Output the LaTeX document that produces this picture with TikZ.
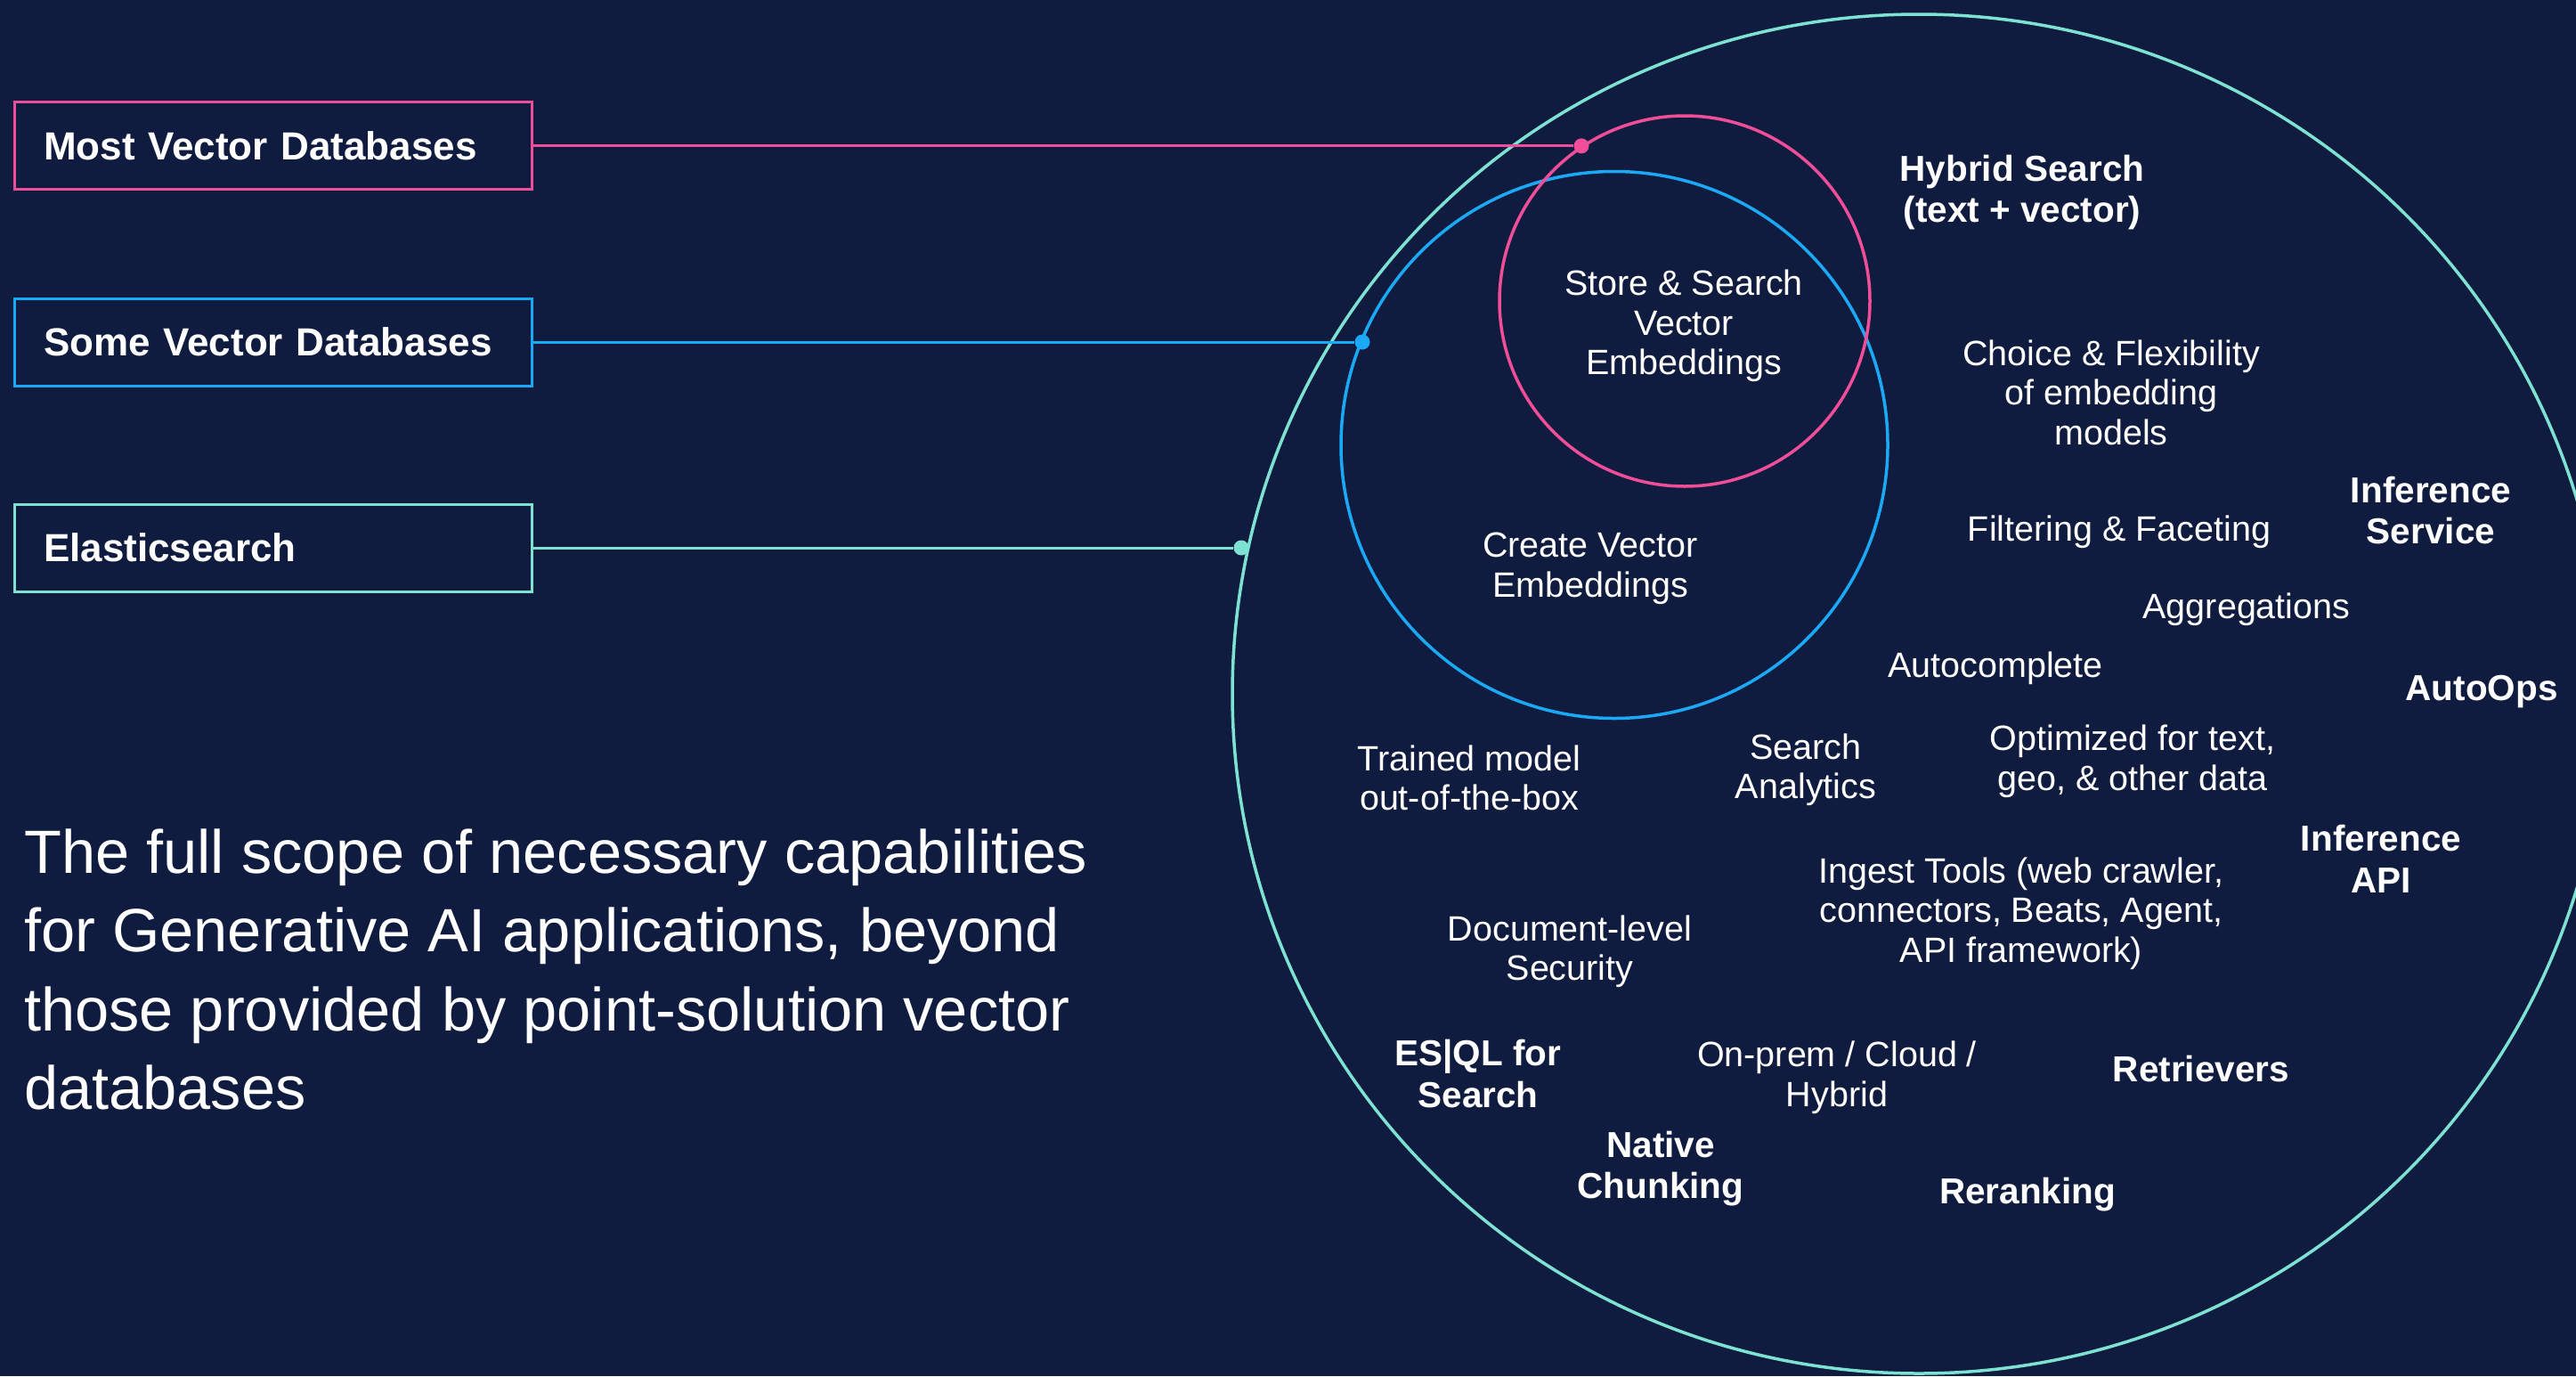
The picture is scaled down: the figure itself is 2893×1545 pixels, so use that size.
\documentclass[tikz,border=0pt]{standalone}
\usepackage{fontspec}
\setmainfont{Liberation Sans}
\definecolor{bg}{HTML}{101C3F}
\definecolor{pinkc}{HTML}{F04E98}
\definecolor{bluec}{HTML}{1BA9F5}
\definecolor{tealc}{HTML}{7DE2D1}
\newcommand{\vs}{\rule[-0.2em]{0pt}{0.92em}}
\begin{document}
\begin{tikzpicture}[x=1pt,y=-1pt,
  dbbox/.style={draw, line width=3pt, fill=bg, text=white, anchor=west,
    minimum width=581.5pt, minimum height=98pt, inner xsep=33pt, inner ysep=0pt,
    text width=515.5pt, align=left, font=\fontsize{44}{50}\selectfont\bfseries},
  conn/.style={line width=3pt},
  dot/.style={circle, inner sep=0pt, minimum size=17pt},
  ring/.style={line width=3.5pt},
  feat/.style={text=white, inner sep=0pt, align=center, yshift=-3pt, font=\fontsize{39.5}{44.5}\selectfont},
  featb/.style={text=white, inner sep=0pt, align=center, yshift=-3pt, font=\fontsize{40.5}{46.5}\selectfont\bfseries},
  para/.style={text=white, inner sep=0pt, align=left, anchor=west, yshift=-7pt, font=\fontsize{68.6}{88.5}\selectfont}]
\fill[bg] (0,0) rectangle (2893,1545);
\useasboundingbox (0,0) rectangle (2893,1545);
\clip (0,0) rectangle (2893,1545);

% rings
\draw[ring, tealc] (2155,779) ellipse [x radius=771pt, y radius=763pt];
\draw[ring, bluec] (1813,499.5) circle [radius=307pt];
\draw[ring, pinkc] (1892,338) circle [radius=208pt];

% boxes
\node[dbbox, draw=pinkc] (most) at (14.5,163.8) {Most Vector Databases};
\node[dbbox, draw=bluec] (some) at (14.5,384) {Some Vector Databases};
\node[dbbox, draw=tealc] (es) at (14.5,615) {Elasticsearch};

% dots
\node[dot, fill=pinkc] (pd) at (1776,163.8) {};
\node[dot, fill=bluec] (bd) at (1530,384) {};
\node[dot, fill=tealc] (td) at (1394,615) {};

% connectors
\draw[conn, pinkc] (most.east) -- (pd);
\draw[conn, bluec] (some.east) -- (bd);
\draw[conn, tealc] (es.east) -- (td);

% features
\node[featb] (hyb) at (2271,213) {\vs Hybrid Search\\\vs (text + vector)};
\node[feat] (store) at (1891,363) {\vs Store \& Search\\\vs Vector\\\vs Embeddings};
\node[feat] (choice) at (2371,441.5) {\vs Choice \& Flexibility\\\vs of embedding\\\vs models};
\node[feat] (create) at (1786,635) {\vs Create Vector\\\vs Embeddings};
\node[feat] (filt) at (2380,594) {\vs Filtering \& Faceting};
\node[featb] (infs) at (2730,574) {\vs Inference\\\vs Service};
\node[feat] (aggr) at (2523,681) {\vs Aggregations};
\node[feat] (auto) at (2241,747) {\vs Autocomplete};
\node[featb] (aops) at (2787,773) {\vs AutoOps};
\node[feat] (trained) at (1650,874) {\vs Trained model\\\vs out-of-the-box};
\node[feat] (sanal) at (2028,861.5) {\vs Search\\\vs Analytics};
\node[feat] (optim) at (2395,852) {\vs Optimized for text,\\\vs geo, \& other data};
\node[featb] (infapi) at (2674,965.5) {\vs Inference\\\vs API};
\node[feat] (ingest) at (2270,1022.5) {\vs Ingest Tools (web crawler,\\\vs connectors, Beats, Agent,\\\vs API framework)};
\node[feat] (docsec) at (1763,1065.5) {\vs Document-level\\\vs Security};
\node[featb] (esql) at (1660,1206.5) {\vs ES|QL for\\\vs Search};
\node[feat] (onprem) at (2063,1207) {\vs On-prem / Cloud /\\\vs Hybrid};
\node[featb] (retr) at (2472,1201) {\vs Retrievers};
\node[featb] (chunk) at (1865,1309) {\vs Native\\\vs Chunking};
\node[featb] (rerank) at (2277,1338) {\vs Reranking};

% paragraph
\node[para] (scope) at (27,1088) {\vs The full scope of necessary capabilities\\\vs for Generative AI applications, beyond\\\vs those provided by point-solution vector\\\vs databases};
\end{tikzpicture}
\end{document}
